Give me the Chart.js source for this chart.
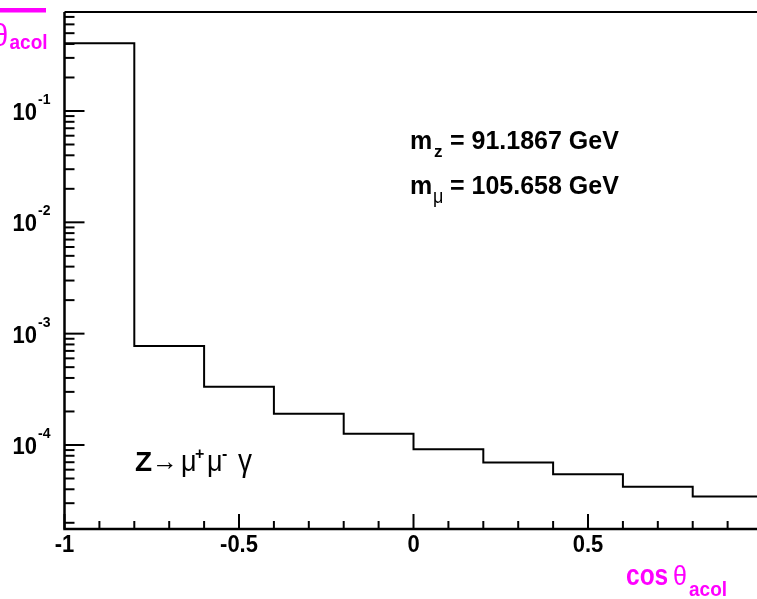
<!DOCTYPE html>
<html lang="en">
<head>
    <meta charset="UTF-8">
    <title>cos theta_acol distribution</title>
    <script src="https://cdn.jsdelivr.net/npm/chart.js"></script>
    <style>
        html, body { margin: 0; padding: 0; background: #fff; }
        canvas { display: block; }
    </style>
</head>
<body>
    <canvas id="acol" width="757" height="599"></canvas>

    <script>
        // histogram of cos(theta_acol), 10 bins over [-1, 1]
        const binEdges = [-1, -0.8, -0.6, -0.4, -0.2, 0, 0.2, 0.4, 0.6, 0.8, 1];
        const binValues = [0.406, 7.74e-4, 3.34e-4, 1.91e-4, 1.26e-4, 9.14e-5, 6.97e-5, 5.46e-5, 4.22e-5, 3.44e-5];

        const xTickLabels = ['-1', '-0.5', '0', '0.5'];
        const xTickValues = [-1, -0.5, 0, 0.5];
        const yDecades = [-1, -2, -3, -4];

        const xRange = [-1, 0.9842];
        const yRange = [1.759e-5, 0.7749];

        const MAGENTA = '#ff00ff';
        const SANS = '"Liberation Sans", Arial, sans-serif';

        // step points: each edge carries the value of the bin to its right
        const histPoints = binEdges.map((e, i) => ({
            x: e,
            y: binValues[Math.min(i, binValues.length - 1)]
        }));

        // text at a baseline; sy stretches glyphs vertically (taller, narrower look)
        function txt(ctx, s, x, y, font, color, align, sy) {
            ctx.save();
            ctx.translate(x, y);
            ctx.scale(1, sy || 1);
            ctx.font = font;
            ctx.fillStyle = color || '#000';
            ctx.textAlign = align || 'left';
            ctx.textBaseline = 'alphabetic';
            ctx.fillText(s, 0, 0);
            ctx.restore();
        }

        const rootFrame = {
            id: 'rootFrame',
            afterDatasetsDraw(chart) {
                const ctx = chart.ctx;
                const area = chart.chartArea;
                const xs = chart.scales.x;
                const ys = chart.scales.y;

                ctx.save();
                ctx.strokeStyle = '#000';
                ctx.lineCap = 'butt';

                // frame: left, bottom, top
                ctx.lineWidth = 2.5;
                ctx.beginPath();
                ctx.moveTo(area.left, area.top);
                ctx.lineTo(area.left, area.bottom);
                ctx.lineTo(area.right, area.bottom);
                ctx.stroke();
                ctx.lineWidth = 2;
                ctx.beginPath();
                ctx.moveTo(area.left, area.top);
                ctx.lineTo(area.right, area.top);
                ctx.stroke();

                // log ticks on the y axis, pointing inwards
                ctx.lineWidth = 2;
                for (let k = -5; k <= 0; k++) {
                    for (let m = 1; m <= 9; m++) {
                        const v = m * Math.pow(10, k);
                        if (v < yRange[0] || v > yRange[1]) continue;
                        const py = ys.getPixelForValue(v);
                        const len = m === 1 ? 20 : 10;
                        ctx.beginPath();
                        ctx.moveTo(area.left, py);
                        ctx.lineTo(area.left + len, py);
                        ctx.stroke();
                    }
                }

                // x ticks every 0.1, long ones every 0.5
                for (let i = -10; i <= 10; i++) {
                    const v = i / 10;
                    if (v > xRange[1]) continue;
                    const px = xs.getPixelForValue(v);
                    const len = i % 5 === 0 ? 15 : 8;
                    ctx.beginPath();
                    ctx.moveTo(px, area.bottom);
                    ctx.lineTo(px, area.bottom - len);
                    ctx.stroke();
                }
                ctx.restore();

                // y labels 10^k
                yDecades.forEach(k => {
                    const py = ys.getPixelForValue(Math.pow(10, k));
                    txt(ctx, '10', 37, py + 9, 'bold 22px ' + SANS, '#000', 'right', 1.06);
                    txt(ctx, String(k), 38, py - 7, 'bold 14px ' + SANS, '#000', 'left');
                });

                // x labels
                xTickValues.forEach((v, i) => {
                    txt(ctx, xTickLabels[i], xs.getPixelForValue(v), 552, 'bold 22px ' + SANS, '#000', 'center', 1.06);
                });

                // x title
                txt(ctx, 'cos', 626, 585, 'bold 24.5px ' + SANS, MAGENTA, 'left', 1.18);
                txt(ctx, '\u03b8', 673, 585, '25px ' + SANS, MAGENTA, 'left', 1.12);
                txt(ctx, 'acol', 689, 596, 'bold 19px ' + SANS, MAGENTA, 'left', 1.1);

                // y title, mostly outside the canvas
                ctx.fillStyle = MAGENTA;
                ctx.fillRect(0, 8, 46, 4.5);
                txt(ctx, '\u03b8', 8, 46, '28px ' + SANS, MAGENTA, 'right', 1.12);
                txt(ctx, 'acol', 9.5, 49, 'bold 19px ' + SANS, MAGENTA, 'left', 1.1);

                // mass annotations
                txt(ctx, 'm', 410, 149, 'bold 25px ' + SANS);
                txt(ctx, 'z', 434, 157, 'bold 17px ' + SANS);
                txt(ctx, '= 91.1867 GeV', 450, 149, 'bold 25px ' + SANS);
                txt(ctx, 'm', 410, 194, 'bold 25px ' + SANS);
                txt(ctx, '\u03bc', 433, 203, '18px ' + SANS, '#000', 'left', 1.1);
                txt(ctx, '= 105.658 GeV', 450, 194, 'bold 25px ' + SANS);

                // process label
                txt(ctx, 'Z', 135, 471, 'bold 28px ' + SANS);
                txt(ctx, '\u2192', 152, 470, '26px ' + SANS);
                txt(ctx, '\u03bc', 181, 471, '27px ' + SANS, '#000', 'left', 1.1);
                txt(ctx, '+', 195, 459, 'bold 16px ' + SANS);
                txt(ctx, '\u03bc', 207, 471, '27px ' + SANS, '#000', 'left', 1.1);
                txt(ctx, '-', 222, 459, 'bold 16px ' + SANS);
                txt(ctx, '\u03b3', 238, 471, '28px ' + SANS, '#000', 'left', 1.1);
            }
        };

        new Chart(document.getElementById('acol'), {
            type: 'line',
            data: {
                datasets: [{
                    data: histPoints,
                    stepped: 'before',
                    borderColor: '#000',
                    borderWidth: 2,
                    pointRadius: 0,
                    fill: false
                }]
            },
            options: {
                responsive: false,
                animation: false,
                devicePixelRatio: 1,
                layout: { padding: { left: 64.5, top: 12, right: 0, bottom: 70 } },
                plugins: { legend: { display: false }, tooltip: { enabled: false } },
                scales: {
                    x: { type: 'linear', min: xRange[0], max: xRange[1], display: false },
                    y: { type: 'logarithmic', min: yRange[0], max: yRange[1], display: false }
                }
            },
            plugins: [rootFrame]
        });
    </script>
</body>
</html>
